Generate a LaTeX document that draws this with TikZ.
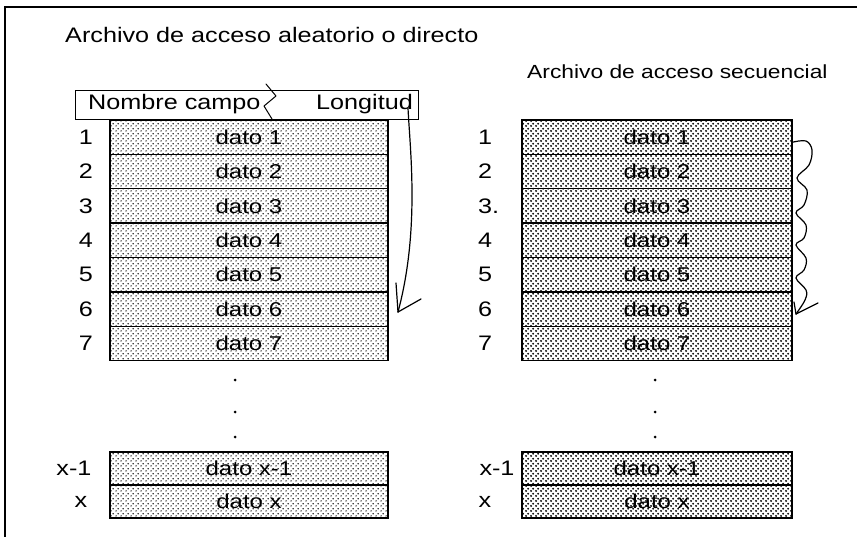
\documentclass[tikz,border=0pt]{standalone}
\usepackage{fontspec}
\setmainfont{Liberation Sans}[FakeStretch=1.2]
\usetikzlibrary{patterns.meta}
\tikzdeclarepattern{name=dotsL, type=uncolored,
  bounding box={(0pt,0pt) and (5pt,5pt)}, tile size={(5pt,5pt)},
  code={\fill (1.25pt,1.25pt) circle (0.85pt); \fill (3.75pt,3.75pt) circle (0.85pt);}}
\tikzdeclarepattern{name=dotsR, type=uncolored,
  bounding box={(0pt,0pt) and (5pt,5pt)}, tile size={(5pt,5pt)},
  code={\fill (1.25pt,1.25pt) circle (1.25pt); \fill (3.75pt,3.75pt) circle (1.25pt);}}
\tikzset{
  txt/.style={font=\fontsize{21}{25}\selectfont, inner sep=0pt},
  cellL/.style={draw, line width=1.4pt, minimum width=278pt, minimum height=34.4pt, inner sep=0pt,
    pattern=dotsL, pattern color=black, font=\fontsize{20}{24}\selectfont, text=black},
  cellR/.style={draw, line width=1.4pt, minimum width=270pt, minimum height=34.4pt, inner sep=0pt,
    pattern=dotsR, pattern color=black, font=\fontsize{20}{24}\selectfont, text=black},
  hand/.style={line width=1.2pt, line cap=round, line join=round},
  dot/.style={circle, fill, inner sep=0pt, minimum size=3pt}
}
\begin{document}
\begin{tikzpicture}[x=1pt, y=-1pt]
\useasboundingbox (0,0) rectangle (857,537);
% frame
\draw[line width=1.5pt] (857,7) -- (5,7) -- (5,537);
% titles
\node[txt, anchor=west] (t1) at (65,35) {Archivo de acceso aleatorio o directo};
\node[txt, font=\fontsize{19}{23}\selectfont, anchor=west] (t2) at (527,72) {Archivo de acceso secuencial};
% header
\node[draw, line width=1.3pt, minimum width=343pt, minimum height=29pt, inner sep=0pt, anchor=north west] (hdr) at (75,90) {};
\node[txt, anchor=west] (nc) at (88,104) {Nombre campo};
\node[txt, anchor=east] (lg) at (413,104) {Longitud};
\draw[hand, line width=1pt] (266,84) -- (276,96) -- (264,106) -- (272,119);
% left table
\foreach \i/\l in {1/1,2/2,3/3,4/4,5/5,6/6,7/7}{
  \node[cellL] (L\i) at (249,{120+(\i-0.5)*34.4}) {dato \i};
  \node[txt] (nl\i) at (86,{120+(\i-0.5)*34.4}) {\l};
}
\node[cellL, minimum height=33pt] (Lx1) at (249,468.5) {dato x-1};
\node[cellL, minimum height=33pt] (Lx) at (249,501.5) {dato x};
\node[txt] (nlx1) at (74,468.5) {x-1};
\node[txt] (nlx) at (81,501.5) {x};
% right table
\foreach \i/\l in {1/1,2/2,3/3.,4/4,5/5,6/6,7/7}{
  \node[cellR] (R\i) at (657,{120+(\i-0.5)*34.4}) {dato \i};
  \node[txt, anchor=west] (nr\i) at (478,{120+(\i-0.5)*34.4}) {\l};
}
\node[cellR, minimum height=33pt] (Rx1) at (657,468.5) {dato x-1};
\node[cellR, minimum height=33pt] (Rx) at (657,501.5) {dato x};
\node[txt] (nrx1) at (497,468.5) {x-1};
\node[txt] (nrx) at (485,501.5) {x};
% ellipsis dots
\foreach \y/\k in {380/a,412/b,437/c}{
  \node[dot] (dl\k) at (235,\y) {};
  \node[dot] (dr\k) at (655,\y) {};
}
% left hand-drawn arrow
\coordinate (tipL) at (398,312);
\draw[hand] ([xshift=-5pt,yshift=-4pt]lg.east) .. controls (410,150) and (420,230) .. (tipL);
\draw[hand] (tipL) -- (396,283);
\draw[hand] (tipL) -- (421,299);
% right wavy arrow
\coordinate (wR) at ([yshift=-5pt]R1.east);
\coordinate (tipR) at (796,314);
\draw[hand] plot[smooth, tension=0.6] coordinates {(wR) (806,141) (812,150) (809,165) (797,178) (807,190) (804,205) (796,213) (806,225) (804,238) (796,245) (806,258) (804,270) (796,278) (806,290) (805,300) (tipR)};
\draw[hand] (tipR) -- (818,303);
\draw[hand] (tipR) -- (794,302);
\end{tikzpicture}
\end{document}
